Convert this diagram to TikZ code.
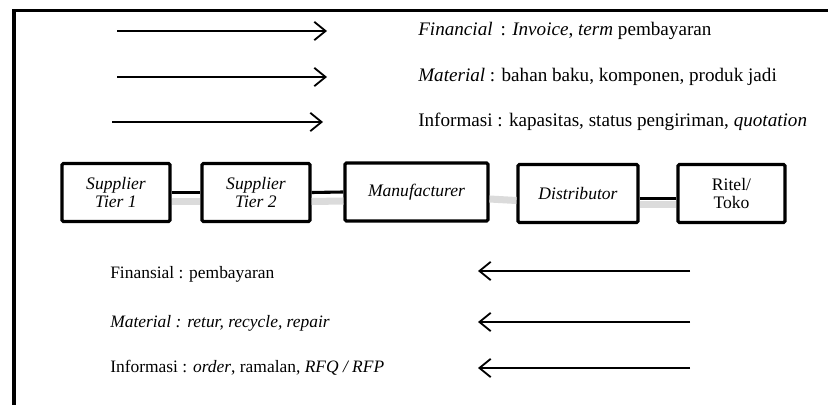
\documentclass[tikz,border=0pt]{standalone}
\usepackage{fontspec}
\setmainfont{Liberation Serif}
\usetikzlibrary{arrows.meta}
\begin{document}
\begin{tikzpicture}[x=0.025cm,y=-0.025cm,
  >={Straight Barb[length=8pt,width=13pt]},
  chainbox/.style={draw,line width=2.2pt,rounded corners=1pt,minimum height=58*0.025cm,inner sep=0pt,align=center,font=\fontsize{12.5}{13}\selectfont\itshape},
  flow/.style={line width=1.3pt,->},
  txt/.style={anchor=west,inner sep=0pt,font=\fontsize{12.4}{14}\selectfont},
  toptxt/.style={txt,font=\fontsize{13.6}{15}\selectfont},
  link/.style={line width=2.2pt},
  glow/.style={line width=5pt,gray!28}]
\useasboundingbox (0,0) rectangle (828,405);
% frame
\draw[line width=2.4pt] (14,410) -- (14,10.5) -- (835,10.5);
% flows to the right
\coordinate (ra1) at (117,31);  \coordinate (rb1) at (327,31);
\coordinate (ra2) at (117,77);  \coordinate (rb2) at (327,77);
\coordinate (ra3) at (112,122); \coordinate (rb3) at (323,122);
\draw[flow] (ra1) -- (rb1);
\draw[flow] (ra2) -- (rb2);
\draw[flow] (ra3) -- (rb3);
\node[toptxt] (fin) at (418,31) {\textit{Financial}\, : \textit{Invoice}, \textit{term} pembayaran};
\node[toptxt] (mat) at (418,77) {\textit{Material} : bahan baku, komponen, produk jadi};
\node[toptxt] (inf) at (418,122) {Informasi : kapasitas, status pengiriman, \textit{quotation}};
% chain
\node[chainbox,minimum width=108*0.025cm] (tier1) at (116,192.5) {Supplier\\Tier 1};
\node[chainbox,minimum width=108*0.025cm] (tier2) at (256,192.5) {Supplier\\Tier 2};
\node[chainbox,minimum width=143*0.025cm] (manuf) at (416.5,192) {Manufacturer};
\node[chainbox,minimum width=120*0.025cm] (dist) at (578,193.5) {Distributor};
\node[chainbox,minimum width=107*0.025cm,font=\fontsize{12.5}{13}\selectfont] (ritel) at (731.5,193.5) {Ritel/\\Toko};
\draw[glow] ([yshift=-9*0.025cm]tier1.east) -- ([yshift=-9*0.025cm]tier2.west);
\draw[glow] ([yshift=-9*0.025cm]tier2.east) -- ([yshift=-9*0.025cm]manuf.west);
\draw[glow] ([yshift=-7*0.025cm]manuf.east) -- ([yshift=-7*0.025cm]dist.west);
\draw[glow] ([yshift=-11*0.025cm]dist.east) -- ([yshift=-11*0.025cm]ritel.west);
\draw[link] (tier1.east) -- (tier2.west);
\draw[link] (tier2.east) -- (manuf.west);
\draw[link] ([yshift=-5*0.025cm]dist.east) -- ([yshift=-5*0.025cm]ritel.west);
% flows to the left
\node[txt] (fin2) at (110,274) {Finansial : pembayaran};
\node[txt] (mat2) at (110,323) {\textit{Material : retur, recycle, repair}};
\node[txt] (inf2) at (110,368) {Informasi : \textit{order}, ramalan, \textit{RFQ / RFP}};
\coordinate (la1) at (690,271); \coordinate (lb1) at (478,271);
\coordinate (la2) at (690,322); \coordinate (lb2) at (478,322);
\coordinate (la3) at (690,368); \coordinate (lb3) at (478,368);
\draw[flow] (la1) -- (lb1);
\draw[flow] (la2) -- (lb2);
\draw[flow] (la3) -- (lb3);
\end{tikzpicture}
\end{document}
